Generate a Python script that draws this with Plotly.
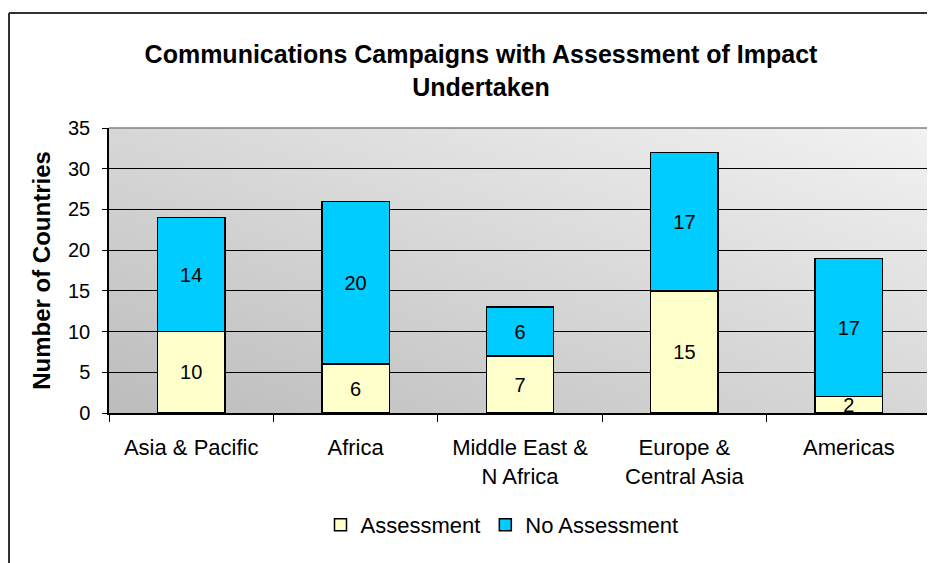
import base64
import plotly.graph_objects as go

regions = ['Asia & Pacific', 'Africa', 'Middle East &<br>N Africa',
           'Europe &<br>Central Asia', 'Americas']
assessment = [10, 6, 7, 15, 2]
no_assessment = [14, 20, 6, 17, 17]
y_ticks = [0, 5, 10, 15, 20, 25, 30, 35]

font_name = 'Liberation Sans, Arial, sans-serif'

# the page body has an 8px margin, so the figure is drawn 8px smaller
W, H = 927, 555
ML, MR, MT, MB = 101, 4, 120, 150
PW, PH = W - ML - MR, H - MT - MB

# diagonal grey gradient for the plot area (no gradients in plotly, so use an svg image)
svg = ('<svg xmlns="http://www.w3.org/2000/svg" width="100" height="100" preserveAspectRatio="none">'
       '<defs><linearGradient id="g" x1="0" y1="1" x2="1" y2="0">'
       '<stop offset="0" stop-color="#bcbcbc"/><stop offset="1" stop-color="#f2f2f2"/>'
       '</linearGradient></defs><rect width="100" height="100" fill="url(#g)"/></svg>')
bg_src = 'data:image/svg+xml;base64,' + base64.b64encode(svg.encode()).decode()

fig = go.Figure()
fig.add_trace(go.Bar(
    x=regions, y=assessment, name='Assessment',
    marker=dict(color='#FFFFCC', line=dict(color='black', width=1.5)),
    text=assessment, textposition='inside', insidetextanchor='middle', textangle=0,
    textfont=dict(family=font_name, size=20, color='black'),
))
fig.add_trace(go.Bar(
    x=regions, y=no_assessment, name='No Assessment',
    marker=dict(color='#00CCFF', line=dict(color='black', width=1.5)),
    text=no_assessment, textposition='inside', insidetextanchor='middle', textangle=0,
    textfont=dict(family=font_name, size=20, color='black'),
))

frame_x = (1 - ML) / PW
frame_y = (H - 5 - MB) / PH

fig.update_layout(
    barmode='stack',
    bargap=0.59,
    width=W, height=H,
    margin=dict(l=ML, r=MR, t=MT, b=MB),
    paper_bgcolor='white',
    plot_bgcolor='rgba(0,0,0,0)',
    font=dict(family=font_name, size=22, color='black'),
    uniformtext=dict(minsize=20, mode='show'),
    title=dict(
        text='<b>Communications Campaigns with Assessment of Impact<br>Undertaken</b>',
        x=473 / W, xanchor='center', xref='container',
        y=1 - 55 / H, yanchor='middle',
        font=dict(family=font_name, size=25, color='black'),
    ),
    legend=dict(
        orientation='h', x=(494 - ML) / PW, xanchor='center',
        y=-(517 - (H - MB)) / PH, yanchor='middle',
        font=dict(family=font_name, size=22, color='black'),
        traceorder='normal',
    ),
    images=[dict(
        source=bg_src, xref='paper', yref='paper', x=0, y=1,
        sizex=1, sizey=1, sizing='stretch', layer='below',
    )],
    shapes=[
        # outer chart frame (top and left edges visible)
        dict(type='line', xref='paper', yref='paper',
             x0=frame_x, x1=1.01, y0=frame_y, y1=frame_y,
             line=dict(color='#333333', width=2)),
        dict(type='line', xref='paper', yref='paper',
             x0=frame_x, x1=frame_x, y0=-0.6, y1=frame_y,
             line=dict(color='#333333', width=2)),
        # plot area border, top and right
        dict(type='line', xref='paper', yref='paper', x0=0, x1=1, y0=1, y1=1,
             line=dict(color='#808080', width=1.5)),
        dict(type='line', xref='paper', yref='paper', x0=1, x1=1, y0=0, y1=1,
             line=dict(color='#808080', width=1.5)),
    ],
)

fig.update_xaxes(
    showline=True, linecolor='black', linewidth=1.5,
    ticks='outside', tickson='boundaries', ticklen=7, tickcolor='black', tickwidth=1,
    ticklabelstandoff=14,
    tickfont=dict(family=font_name, size=22),
    showgrid=False,
)
fig.update_yaxes(
    range=[0, 35], tickvals=y_ticks,
    showline=True, linecolor='black', linewidth=1.5,
    ticks='outside', ticklen=5, tickcolor='black',
    ticklabelstandoff=8,
    tickfont=dict(family=font_name, size=20),
    showgrid=True, gridcolor='black', gridwidth=1,
    zeroline=False,
    title=dict(text='<b>Number of Countries</b>', standoff=11,
               font=dict(family=font_name, size=24)),
)

fig.write_html('out.html')
